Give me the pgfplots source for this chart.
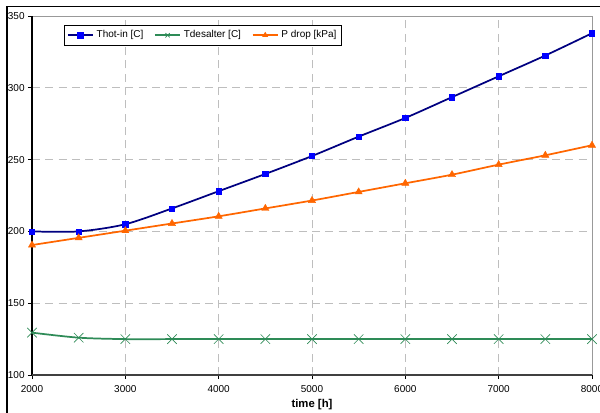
\documentclass[border=0pt]{standalone}
\usepackage{pgfplots}
\pgfplotsset{compat=1.18}
\usepackage{fontspec}
\setmainfont{Liberation Sans}
\definecolor{thot}{RGB}{0,0,128}
\definecolor{thotm}{RGB}{0,0,255}
\definecolor{tdes}{RGB}{46,139,87}
\definecolor{pdrop}{RGB}{255,102,0}
\definecolor{gridc}{RGB}{190,190,190}
\begin{document}
\begin{tikzpicture}[x=1pt,y=1pt]
\useasboundingbox (-24,-27.75) rectangle (426,281.25);
\draw[black,line width=1.1pt] (-18.75,-40) -- (-18.75,276.5) -- (440,276.5);
\begin{axis}[
  at={(0,0)}, anchor=origin,
  scale only axis, width=420pt, height=269.25pt,
  xmin=2000, xmax=8000, ymin=100, ymax=350,
  xtick={2000,3000,...,8000}, ytick={100,150,...,350},
  axis line style={draw=none},
  grid=major,
  major grid style={gridc, dash pattern=on 6pt off 4pt, line width=0.6pt},
  tick style={black, line width=0.5pt},
  tick align=outside, major tick length=3pt,
  xtick pos=bottom, ytick pos=left,
  /pgf/number format/assume math mode=true,
  /pgf/number format/1000 sep={},
  tick label style={font=\fontsize{7.5}{9}\selectfont},
  xticklabel style={yshift=-1pt},
  yticklabel style={xshift=1pt},
  xlabel={\textbf{time [h]}},
  xlabel style={font=\fontsize{8.5}{10}\selectfont, yshift=1.5pt},
  legend columns=3,
  legend style={at={(0.0571,0.975)}, anchor=north west, draw=black, line width=0.5pt,
    font=\fontsize{7.5}{9}\selectfont, inner sep=2pt,
    /tikz/every even column/.append style={column sep=6pt}},
  legend image code/.code={\draw[#1] (0pt,0pt) -- (19pt,0pt); \draw[#1,only marks,mark size=2.3pt] plot coordinates {(9.5pt,0pt)};},
  clip=false,
]
% plot area frame
\draw[gray!80, line width=0.6pt] (axis cs:2000,350) -- (axis cs:8000,350) -- (axis cs:8000,100);
\draw[black, line width=0.9pt] (axis cs:2000,100) -- (axis cs:2000,350);
\draw[black!75, line width=1.2pt] (axis cs:2000,100) -- (axis cs:8000,100);

\addplot[thot, line width=1.3pt, smooth, tension=0.5, mark=square*, mark size=2pt,
  mark options={fill=thotm, draw=thotm, line width=0.3pt, solid}] coordinates {
(2000,200) (2500,200) (3000,205) (3500,216) (4000,228) (4500,240) (5000,252.5)
(5500,266) (6000,279) (6500,293.5) (7000,308) (7500,322.5) (8000,338)};
\addlegendentry{Thot-in [C]}
\addplot[tdes, line width=1.3pt, smooth, tension=0.5, mark=x, mark size=5pt,
  mark options={line width=0.5pt, solid}] coordinates {
(2000,129.5) (2500,126) (3000,125) (3500,125) (4000,125) (4500,125) (5000,125)
(5500,125) (6000,125) (6500,125) (7000,125) (7500,125) (8000,125)};
\addlegendentry{Tdesalter [C]}
\addplot[pdrop, line width=1.3pt, smooth, tension=0.5, mark=triangle*, mark size=3.1pt,
  mark options={fill=pdrop, line width=0.3pt, solid}] coordinates {
(2000,190.5) (2500,195.5) (3000,200.5) (3500,205.5) (4000,210.5) (4500,216) (5000,221.5)
(5500,227.5) (6000,233.5) (6500,239.5) (7000,246.5) (7500,253) (8000,260)};
\addlegendentry{P drop [kPa]}
\end{axis}
\end{tikzpicture}
\end{document}
